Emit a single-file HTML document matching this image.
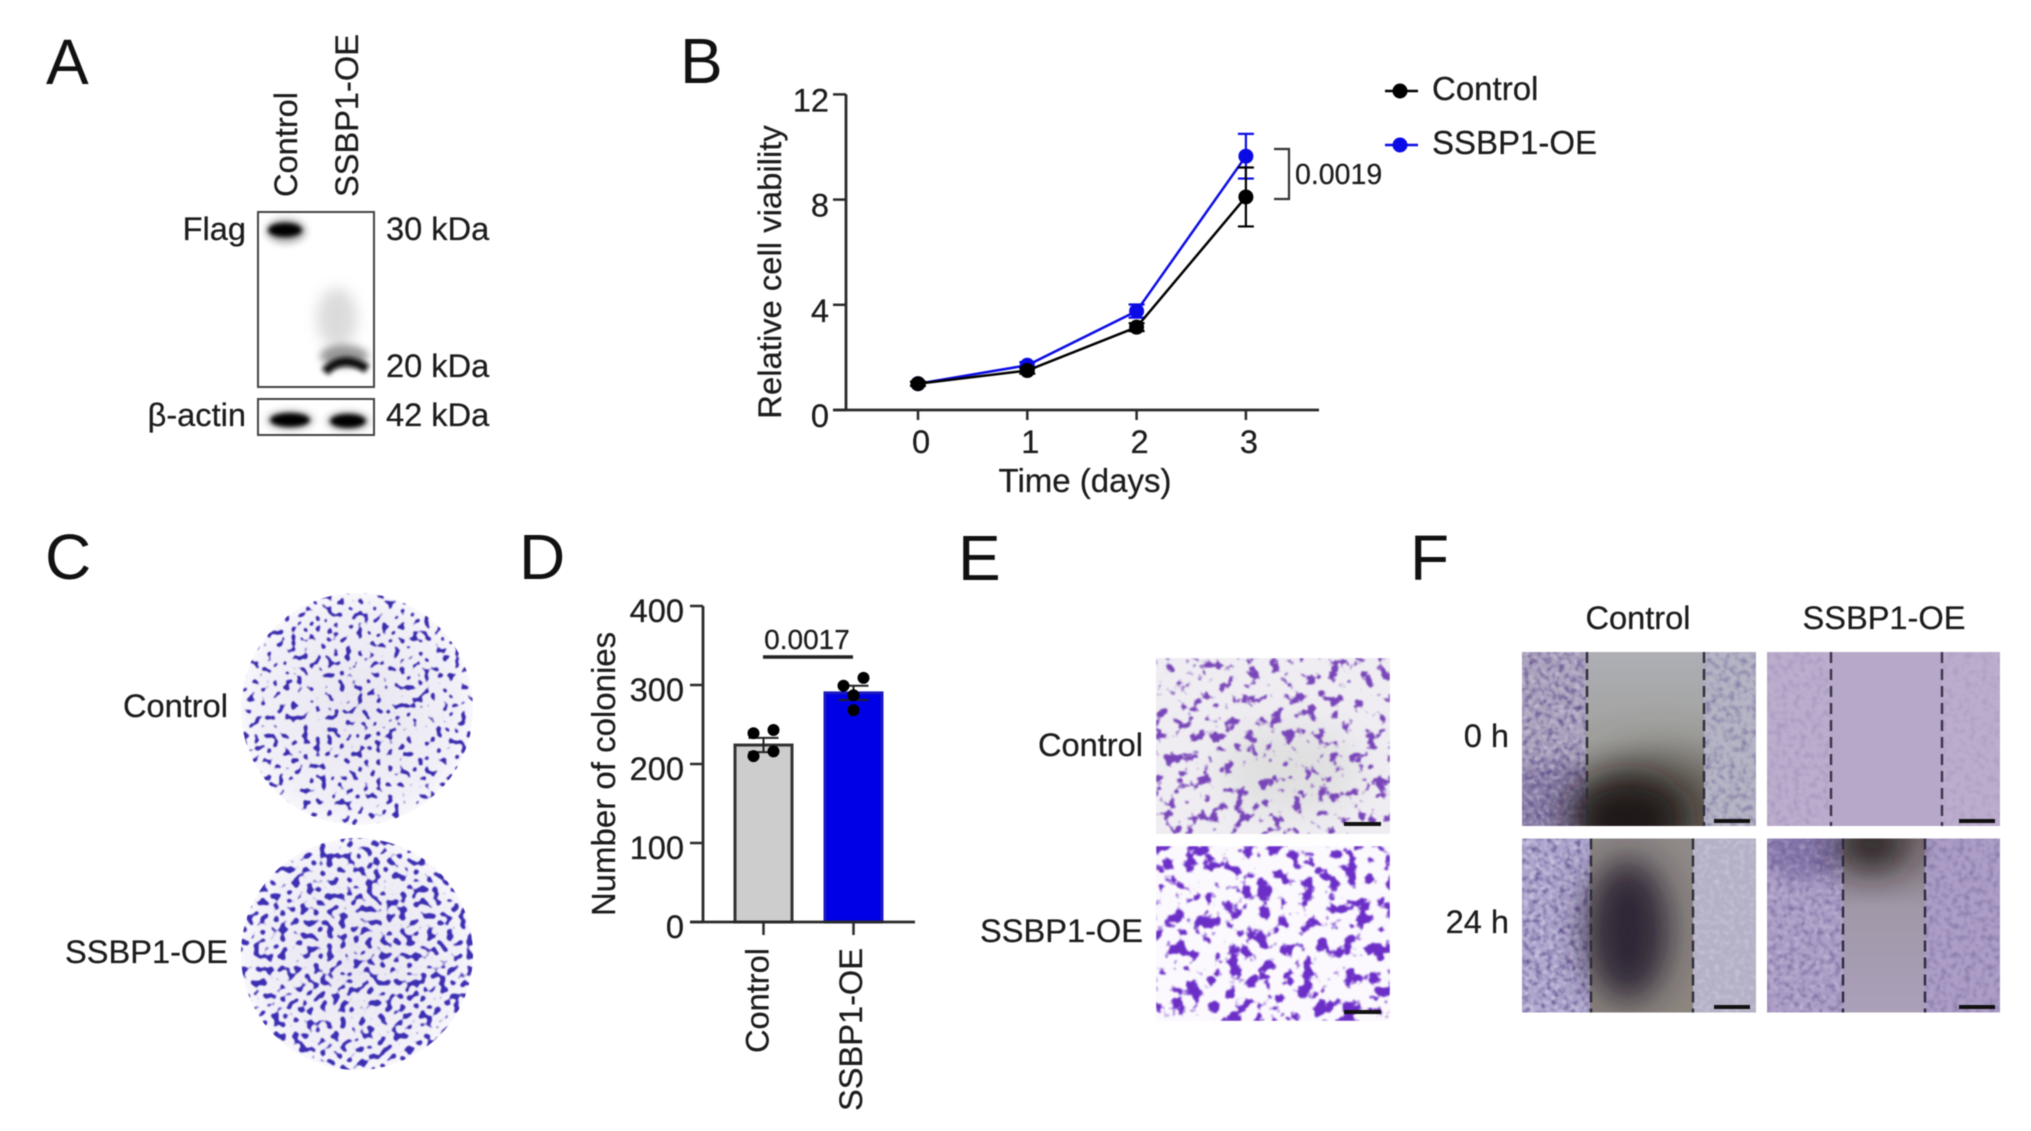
<!DOCTYPE html>
<html lang="en">
<head>
<meta charset="utf-8">
<title>SSBP1-OE multi-panel figure</title>
<style>
html,body{margin:0;padding:0;background:#fff;width:2031px;height:1131px;overflow:hidden}
svg{display:block;filter:blur(.55px)}
text{font-family:"Liberation Sans",Arial,sans-serif;fill:#1c1c1c;font-size:32.6px;stroke:#1c1c1c;stroke-width:.25px}
.letter{font-size:64px;fill:#111;stroke:none}
</style>
</head>
<body>
<svg id="figure" xmlns="http://www.w3.org/2000/svg" width="2031" height="1131" viewBox="0 0 2031 1131">
<defs>
  <filter id="b1" x="-50%" y="-100%" width="200%" height="300%"><feGaussianBlur stdDeviation="2.4"/></filter>
  <filter id="b2" x="-50%" y="-100%" width="200%" height="300%"><feGaussianBlur stdDeviation="4"/></filter>
  <filter id="b3" x="-50%" y="-50%" width="200%" height="200%"><feGaussianBlur stdDeviation="7"/></filter>
  <filter id="b4" x="-60%" y="-60%" width="220%" height="220%"><feGaussianBlur stdDeviation="17"/></filter>
  <filter id="b5" x="-80%" y="-80%" width="260%" height="260%"><feGaussianBlur stdDeviation="24"/></filter>

  <filter id="colonyA" x="0" y="0" width="100%" height="100%" color-interpolation-filters="sRGB">
    <feTurbulence type="fractalNoise" baseFrequency="0.165" numOctaves="1" seed="4"/>
    <feColorMatrix values="0 0 0 0 0.22  0 0 0 0 0.17  0 0 0 0 0.68  16 0 0 0 -9.3"/>
    <feGaussianBlur stdDeviation="0.6"/>
  </filter>
  <filter id="colonyB" x="0" y="0" width="100%" height="100%" color-interpolation-filters="sRGB">
    <feTurbulence type="fractalNoise" baseFrequency="0.15" numOctaves="1" seed="11"/>
    <feColorMatrix values="0 0 0 0 0.23  0 0 0 0 0.18  0 0 0 0 0.70  16 0 0 0 -8.7"/>
    <feGaussianBlur stdDeviation="0.6"/>
  </filter>
  <filter id="transA" x="0" y="0" width="100%" height="100%" color-interpolation-filters="sRGB">
    <feTurbulence type="fractalNoise" baseFrequency="0.085" numOctaves="3" seed="7"/>
    <feColorMatrix values="0 0 0 0 0.47  0 0 0 0 0.27  0 0 0 0 0.72  11 0 0 0 -6.35"/>
    <feGaussianBlur stdDeviation="0.7"/>
  </filter>
  <filter id="transB" x="0" y="0" width="100%" height="100%" color-interpolation-filters="sRGB">
    <feTurbulence type="fractalNoise" baseFrequency="0.07" numOctaves="3" seed="19"/>
    <feColorMatrix values="0 0 0 0 0.42  0 0 0 0 0.18  0 0 0 0 0.78  11 0 0 0 -5.85"/>
    <feGaussianBlur stdDeviation="0.7"/>
  </filter>
  <filter id="cellDark" x="0" y="0" width="100%" height="100%" color-interpolation-filters="sRGB">
    <feTurbulence type="fractalNoise" baseFrequency="0.17" numOctaves="2" seed="3"/>
    <feColorMatrix values="0 0 0 0 0.38  0 0 0 0 0.32  0 0 0 0 0.55  2.6 0 0 0 -1.15"/>
    <feGaussianBlur stdDeviation="0.8"/>
  </filter>
  <filter id="cellLight" x="0" y="0" width="100%" height="100%" color-interpolation-filters="sRGB">
    <feTurbulence type="fractalNoise" baseFrequency="0.2" numOctaves="2" seed="23"/>
    <feColorMatrix values="0 0 0 0 0.86  0 0 0 0 0.84  0 0 0 0 0.92  2.6 0 0 0 -1.2"/>
    <feGaussianBlur stdDeviation="0.8"/>
  </filter>

  <radialGradient id="plateBg"><stop offset="0" stop-color="#e9e6f1"/><stop offset="0.85" stop-color="#f1eff7"/><stop offset="1" stop-color="#f8f7fb"/></radialGradient>
  <linearGradient id="gapA" x1="0" y1="0" x2="0" y2="1"><stop offset="0" stop-color="#aeafb5"/><stop offset="0.5" stop-color="#a1a19e"/><stop offset="1" stop-color="#78726c"/></linearGradient>
  <linearGradient id="gapB" x1="0" y1="0" x2="0" y2="1"><stop offset="0" stop-color="#8f8a88"/><stop offset="1" stop-color="#8d8680"/></linearGradient>
  <linearGradient id="gapC" x1="0" y1="0" x2="0" y2="1"><stop offset="0" stop-color="#7a6f72"/><stop offset="0.4" stop-color="#a198a8"/><stop offset="1" stop-color="#aba0ba"/></linearGradient>

  <clipPath id="plate1"><circle cx="357" cy="709" r="116"/></clipPath>
  <clipPath id="plate2"><circle cx="357" cy="954" r="116"/></clipPath>
  <clipPath id="w11"><rect x="1522" y="652" width="234" height="174"/></clipPath>
  <clipPath id="w12"><rect x="1767" y="652" width="233" height="174"/></clipPath>
  <clipPath id="w21"><rect x="1522" y="838.5" width="234" height="174"/></clipPath>
  <clipPath id="w22"><rect x="1767" y="838.5" width="233" height="174"/></clipPath>
</defs>

<!-- Panel letters -->
<text class="letter" x="46" y="84">A</text>
<text class="letter" x="680" y="83">B</text>
<text class="letter" x="45" y="579">C</text>
<text class="letter" x="519" y="579">D</text>
<text class="letter" x="958" y="580">E</text>
<text class="letter" x="1410" y="580">F</text>

<!-- Panel A: western blot -->
<g>
  <text transform="translate(297,197) rotate(-90)">Control</text>
  <text transform="translate(358,197) rotate(-90)">SSBP1-OE</text>
  <g>
    <ellipse cx="286" cy="231" rx="20" ry="12" fill="#000" opacity=".35" filter="url(#b2)"/>
    <ellipse cx="285" cy="230" rx="17" ry="7" fill="#000" filter="url(#b1)"/>
    <ellipse cx="337" cy="318" rx="20" ry="30" fill="#aaa" opacity=".42" filter="url(#b3)"/>
    <ellipse cx="344" cy="356" rx="24" ry="11" fill="#555" opacity=".6" filter="url(#b2)"/>
    <path d="M325 372 Q342 353 367 369" fill="none" stroke="#111" stroke-width="9" filter="url(#b1)"/>
    <rect x="258" y="212" width="116" height="175" fill="none" stroke="#444" stroke-width="2"/>
  </g>
  <g>
    <ellipse cx="290" cy="420" rx="24" ry="10" fill="#000" opacity=".25" filter="url(#b2)"/>
    <ellipse cx="348" cy="421" rx="22" ry="10" fill="#000" opacity=".25" filter="url(#b2)"/>
    <ellipse cx="290" cy="420" rx="20" ry="7" fill="#000" filter="url(#b1)"/>
    <ellipse cx="348" cy="421" rx="18" ry="7" fill="#000" filter="url(#b1)"/>
    <rect x="258" y="399" width="116" height="36" fill="none" stroke="#444" stroke-width="2"/>
  </g>
  <text x="246" y="240" text-anchor="end">Flag</text>
  <text x="246" y="426" text-anchor="end" style='font-family:"Liberation Sans","DejaVu Sans",sans-serif'>β-actin</text>
  <text x="386" y="240">30 kDa</text>
  <text x="386" y="377">20 kDa</text>
  <text x="386" y="426">42 kDa</text>
</g>

<!-- Panel B: line chart -->
<g id="chartB">
  <text transform="translate(781,272) rotate(-90)" text-anchor="middle" style="font-size:32.8px">Relative cell viability</text>
  <text x="1085" y="492" text-anchor="middle" style="font-size:33px">Time (days)</text>
</g>

<!-- Panel C: colony plates -->
<g>
  <text x="228" y="717" text-anchor="end">Control</text>
  <text x="228" y="963" text-anchor="end">SSBP1-OE</text>
  <g clip-path="url(#plate1)">
    <circle cx="357" cy="709" r="116" fill="url(#plateBg)"/>
    <rect x="238" y="590" width="238" height="238" filter="url(#colonyA)"/>
  </g>
  <g clip-path="url(#plate2)">
    <circle cx="357" cy="954" r="116" fill="url(#plateBg)"/>
    <rect x="238" y="835" width="238" height="238" filter="url(#colonyB)"/>
  </g>
</g>

<!-- Panel D: bar chart -->
<g id="chartD">
  <text transform="translate(615,774) rotate(-90)" text-anchor="middle" style="font-size:33px">Number of colonies</text>
  <text x="807" y="649" text-anchor="middle" style="font-size:28px">0.0017</text>
  <line x1="763" y1="657" x2="853" y2="657" stroke="#222" stroke-width="3.5"/>
</g>

<!-- Panel E: transwell -->
<g>
  <text x="1143" y="756" text-anchor="end">Control</text>
  <text x="1143" y="942" text-anchor="end">SSBP1-OE</text>
  <g>
    <rect x="1156" y="658" width="234" height="176" fill="#efedf2"/>
    <ellipse cx="1290" cy="770" rx="70" ry="45" fill="#dcdcdc" opacity=".8" filter="url(#b4)"/>
    <rect x="1156" y="658" width="234" height="176" filter="url(#transA)"/>
    <rect x="1344" y="822" width="37" height="4" fill="#111"/>
  </g>
  <g>
    <rect x="1156" y="846" width="234" height="175" fill="#fbf9fd"/>
    <rect x="1156" y="846" width="234" height="175" filter="url(#transB)"/>
    <rect x="1344" y="1010" width="37" height="4" fill="#111"/>
  </g>
</g>

<!-- Panel F: wound healing -->
<g>
  <text x="1638" y="629" text-anchor="middle">Control</text>
  <text x="1884" y="629" text-anchor="middle">SSBP1-OE</text>
  <text x="1509" y="747" text-anchor="end">0 h</text>
  <text x="1509" y="933" text-anchor="end">24 h</text>

  <g clip-path="url(#w11)">
    <rect x="1522" y="652" width="234" height="174" fill="#aca3bd"/>
    <ellipse cx="1555" cy="800" rx="45" ry="40" fill="#7a6d9c" opacity=".7" filter="url(#b3)"/>
    <rect x="1522" y="652" width="64" height="174" filter="url(#cellDark)"/>
    <rect x="1522" y="652" width="64" height="174" filter="url(#cellLight)" opacity=".6"/>
    <rect x="1586" y="652" width="118" height="174" fill="url(#gapA)"/>
    <ellipse cx="1660" cy="805" rx="70" ry="50" fill="#4f483f" opacity=".8" filter="url(#b5)"/>
    <ellipse cx="1628" cy="818" rx="58" ry="42" fill="#1c1718" opacity=".97" filter="url(#b4)"/>
    <rect x="1704" y="652" width="52" height="174" fill="#b5b5c5"/>
    <rect x="1704" y="652" width="52" height="174" filter="url(#cellDark)" opacity=".55"/>
    <path d="M1587 652V826M1704 652V826" stroke="#2e2e38" stroke-width="2.4" stroke-dasharray="11 6"/>
    <rect x="1714" y="819" width="36" height="4" fill="#111"/>
  </g>

  <g clip-path="url(#w12)">
    <rect x="1767" y="652" width="233" height="174" fill="#bcadcd"/>
    <rect x="1767" y="652" width="64" height="174" filter="url(#cellDark)" opacity=".22"/>
    <rect x="1942" y="652" width="58" height="174" filter="url(#cellDark)" opacity=".15"/>
    <rect x="1831" y="652" width="111" height="174" fill="#b5a8c8"/>
    <path d="M1831 652V826M1942 652V826" stroke="#3a3448" stroke-width="2.4" stroke-dasharray="11 6"/>
    <rect x="1959" y="819" width="36" height="4" fill="#111"/>
  </g>

  <g clip-path="url(#w21)">
    <rect x="1522" y="838.5" width="234" height="174" fill="#aea6ce"/>
    <rect x="1522" y="838.5" width="68" height="174" filter="url(#cellDark)"/>
    <rect x="1522" y="838.5" width="68" height="174" filter="url(#cellLight)" opacity=".8"/>
    <rect x="1590" y="838.5" width="103" height="174" fill="url(#gapB)"/>
    <ellipse cx="1628" cy="930" rx="42" ry="72" fill="#2a2430" opacity=".95" filter="url(#b4)"/>
    <rect x="1693" y="838.5" width="63" height="174" fill="#b4b1c6"/>
    <rect x="1693" y="838.5" width="63" height="174" filter="url(#cellLight)" opacity=".5"/>
    <path d="M1591 838.5V1012.5M1693 838.5V1012.5" stroke="#2e2e38" stroke-width="2.4" stroke-dasharray="11 6"/>
    <rect x="1714" y="1005" width="36" height="4" fill="#111"/>
  </g>

  <g clip-path="url(#w22)">
    <rect x="1767" y="838.5" width="233" height="174" fill="#ac9ec6"/>
    <ellipse cx="1805" cy="852" rx="40" ry="28" fill="#6a5a96" opacity=".6" filter="url(#b3)"/>
    <rect x="1767" y="838.5" width="76" height="174" filter="url(#cellDark)" opacity=".6"/>
    <rect x="1767" y="838.5" width="76" height="174" filter="url(#cellLight)" opacity=".4"/>
    <rect x="1925" y="838.5" width="75" height="174" filter="url(#cellDark)" opacity=".45"/>
    <rect x="1843" y="838.5" width="82" height="174" fill="url(#gapC)"/>
    <ellipse cx="1872" cy="845" rx="36" ry="26" fill="#241c1e" opacity=".9" filter="url(#b4)"/>
    <path d="M1843 838.5V1012.5M1925 838.5V1012.5" stroke="#2e2a40" stroke-width="2.4" stroke-dasharray="11 6"/>
    <rect x="1959" y="1005" width="36" height="4" fill="#111"/>
  </g>
</g>
</svg>

<script>
// Chart B data
const timeDays = [0, 1, 2, 3];
const viabilityTicks = [0, 4, 8, 12];
const controlViability = [1.0, 1.5, 3.15, 8.1];
const controlViabilityErr = [0.08, 0.12, 0.15, 1.12];
const ssbpViability = [1.0, 1.7, 3.76, 9.65];
const ssbpViabilityErr = [0.08, 0.12, 0.25, 0.85];

// Chart D data
const colonyTicks = [0, 100, 200, 300, 400];
const colonyGroups = ['Control', 'SSBP1-OE'];
const colonyMeans = [224, 290];
const colonyErr = [9, 9];
const controlColonyPoints = [239, 243, 210, 216];
const ssbpColonyPoints = [299, 309, 287, 268];

const NS = 'http://www.w3.org/2000/svg';
function mk(parent, tag, attrs, content) {
  const el = document.createElementNS(NS, tag);
  for (const k in attrs) el.setAttribute(k, attrs[k]);
  if (content !== undefined) el.textContent = content;
  parent.appendChild(el);
  return el;
}

// ---- Chart B ----
const gB = document.getElementById('chartB');
const xB = t => 918 + t * 109.3;
const yB = v => 410 - v * 26.3;
const BLACK = '#2a2a2a';
const BLUE = '#0b0be6';

const yAxisB = mk(gB, 'line', {x1: 846, y1: yB(12), x2: 846, y2: yB(0), stroke: BLACK, 'stroke-width': 2.8});



const xAxisB = mk(gB, 'line', {x1: 833, y1: yB(0), x2: 1319, y2: yB(0), stroke: BLACK, 'stroke-width': 2.8});



viabilityTicks.forEach(v => {
  const tick = mk(gB, 'line', {x1: 833, y1: yB(v), x2: 846, y2: yB(v), stroke: BLACK, 'stroke-width': 2.5});
  
  
  const label = mk(gB, 'text', {x: 829, y: yB(v) + 17, 'text-anchor': 'end'}, String(v));
  
  
});
timeDays.forEach(t => {
  const tick = mk(gB, 'line', {x1: xB(t), y1: yB(0), x2: xB(t), y2: yB(0) + 10, stroke: BLACK, 'stroke-width': 2.5});
  
  
  const label = mk(gB, 'text', {x: xB(t) + 3, y: 453, 'text-anchor': 'middle'}, String(t));
  
  
});

function drawSeries(values, errs, color, name) {
  const group = mk(gB, 'g', {});
  
  
  const path = mk(group, 'polyline', {
    points: values.map((v, i) => xB(timeDays[i]) + ',' + yB(v)).join(' '),
    fill: 'none', stroke: color, 'stroke-width': 2.5
  });
  
  
  values.forEach((v, i) => {
    const x = xB(timeDays[i]);
    const err = mk(group, 'path', {
      d: 'M' + (x - 8) + ' ' + yB(v + errs[i]) + 'H' + (x + 8) + 'M' + x + ' ' + yB(v + errs[i]) + 'V' + yB(v - errs[i]) + 'M' + (x - 8) + ' ' + yB(v - errs[i]) + 'H' + (x + 8),
      fill: 'none', stroke: color, 'stroke-width': 2.2
    });
    
    
    const dot = mk(group, 'circle', {cx: x, cy: yB(v), r: 7.5, fill: color});
    
    
  });
}
drawSeries(ssbpViability, ssbpViabilityErr, BLUE, 'ssbp1-oe');
drawSeries(controlViability, controlViabilityErr, '#000', 'control');

const bracket = mk(gB, 'path', {d: 'M1274 149H1289V199H1274', fill: 'none', stroke: '#333', 'stroke-width': 2.2});


const pB = mk(gB, 'text', {x: 1295, y: 184, style: 'font-size:28.5px'}, '0.0019');



const legendRows = [['Control', '#000', 91, 100], ['SSBP1-OE', BLUE, 145, 154]];
legendRows.forEach(row => {
  const swatchLine = mk(gB, 'line', {x1: 1385, y1: row[2], x2: 1418, y2: row[2], stroke: row[1], 'stroke-width': 2.5});
  
  
  const swatchDot = mk(gB, 'circle', {cx: 1400, cy: row[2], r: 7.5, fill: row[1]});
  
  
  const txt = mk(gB, 'text', {x: 1432, y: row[3], style: 'font-size:33px'}, row[0]);
  
  
});

// ---- Chart D ----
const gD = document.getElementById('chartD');
const yD = v => 922 - v * 0.79;
const xD = i => 763.5 + i * 90;

const barFills = ['#cdcdcd', '#0000e6'];
const barStrokes = ['#333333', '#1a1ac0'];
colonyMeans.forEach((m, i) => {
  const bar = mk(gD, 'rect', {x: xD(i) - 28.5, y: yD(m), width: 57, height: yD(0) - yD(m), fill: barFills[i], stroke: barStrokes[i], 'stroke-width': 3});
  
  
});

const yAxisD = mk(gD, 'line', {x1: 703, y1: yD(400), x2: 703, y2: yD(0), stroke: BLACK, 'stroke-width': 2.8});


const xAxisD = mk(gD, 'line', {x1: 690, y1: yD(0), x2: 915, y2: yD(0), stroke: BLACK, 'stroke-width': 2.8});



colonyTicks.forEach(v => {
  const tick = mk(gD, 'line', {x1: 690, y1: yD(v), x2: 703, y2: yD(v), stroke: BLACK, 'stroke-width': 2.5});
  
  
  const label = mk(gD, 'text', {x: 684, y: yD(v) + 16, 'text-anchor': 'end'}, String(v));
  
  
});
colonyGroups.forEach((g, i) => {
  const tick = mk(gD, 'line', {x1: xD(i), y1: yD(0), x2: xD(i), y2: yD(0) + 13, stroke: BLACK, 'stroke-width': 2.5});
  
  
  const label = mk(gD, 'text', {transform: 'translate(' + (xD(i) + 5 + i * 3.5) + ',948) rotate(-90)', 'text-anchor': 'end'}, g);
  
  
});

colonyMeans.forEach((m, i) => {
  const x = xD(i);
  const e = colonyErr[i];
  const err = mk(gD, 'path', {
    d: 'M' + (x - 15) + ' ' + yD(m + e) + 'H' + (x + 15) + 'M' + x + ' ' + yD(m + e) + 'V' + yD(m - e) + 'M' + (x - 15) + ' ' + yD(m - e) + 'H' + (x + 15),
    fill: 'none', stroke: '#222', 'stroke-width': 2
  });
  
  
});

function drawPoints(values, groupIndex, sideways, name) {
  values.forEach((v, i) => {
    const dot = mk(gD, 'circle', {cx: xD(groupIndex) + sideways[i] * 10, cy: yD(v), r: 6, fill: '#000'});
    
    
  });
}
drawPoints(controlColonyPoints, 0, [-1, 1, -1, 1], 'control');
drawPoints(ssbpColonyPoints, 1, [-1, 1, 0, 0], 'ssbp1-oe');
</script>
</body>
</html>
